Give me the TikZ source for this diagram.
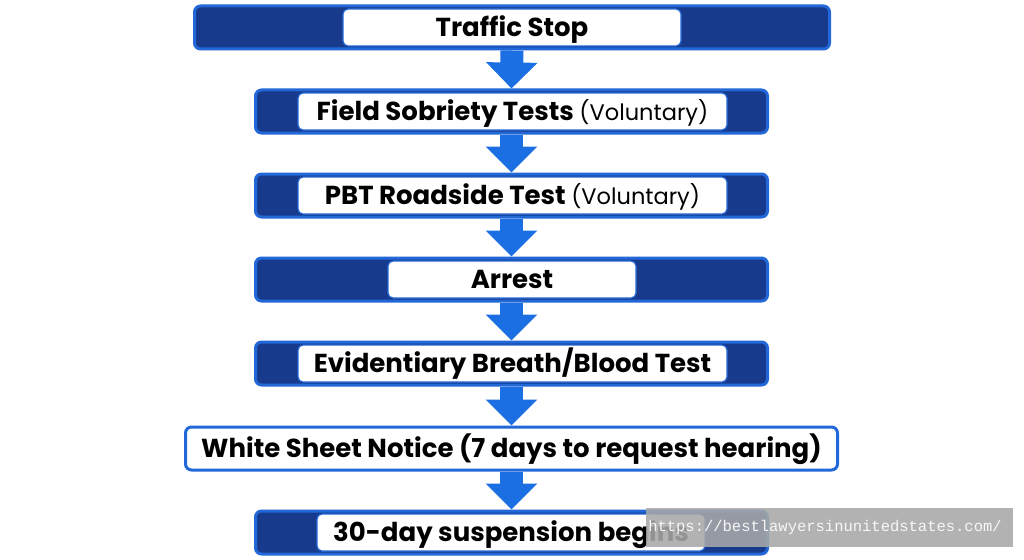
\documentclass[tikz,border=0pt]{standalone}
\usepackage{fontspec}
\setmainfont{Poppins}
\newfontfamily\wmfont{Liberation Mono}
\usetikzlibrary{arrows.meta}
\definecolor{bright}{HTML}{2268D8}
\definecolor{arrowblue}{HTML}{1C6FE2}
\definecolor{navy}{HTML}{173A8C}
\definecolor{wmgray}{HTML}{A8A8A8}
\newcommand{\paren}[1]{{\mdseries\fontsize{22.5}{24}\selectfont #1}}
\begin{document}
\begin{tikzpicture}[x=1pt,y=-1pt,
  labelfont/.style={font=\fontsize{26}{28}\selectfont\bfseries, text height=18.5pt, text depth=0pt},
  outerbox/.style={draw=bright, fill=navy, line width=3pt, rounded corners=6pt,
    minimum height=43pt, inner sep=0pt, anchor=center},
  innerbox/.style={draw=bright, fill=white, line width=1.2pt, rounded corners=5pt,
    minimum height=37pt, inner sep=0pt, anchor=center, labelfont},
  whitebox/.style={draw=bright, fill=white, line width=3pt, rounded corners=6pt,
    minimum height=43pt, inner sep=0pt, anchor=center, labelfont},
  flow/.style={arrowblue, line width=23pt, -{Triangle[width=50pt,length=26pt]}}
]
\useasboundingbox (0,0) rectangle (1024,559);
\fill[white] (0,0) rectangle (1024,559);

% outer boxes
\node[outerbox, minimum width=635pt] (b1) at (512,27.5) {};
\node[outerbox, minimum width=512pt] (b2) at (511.5,111.5) {};
\node[outerbox, minimum width=512pt] (b3) at (511.5,195.5) {};
\node[outerbox, minimum width=512pt] (b4) at (511.5,279.5) {};
\node[outerbox, minimum width=512pt] (b5) at (511.5,363.5) {};
\node[whitebox, minimum width=652pt] (b6) at (511.5,448.5) {White Sheet Notice (7 days to request hearing)};
\node[outerbox, minimum width=512pt] (b7) at (511.5,532.5) {};

% inner labels
\node[innerbox, minimum width=338pt] (t1) at (512,27.5) {Traffic Stop};
\node[innerbox, minimum width=429pt] (t2) at (512.5,111.5) {Field Sobriety Tests \paren{(Voluntary)}};
\node[innerbox, minimum width=429pt] (t3) at (512.5,195.5) {PBT Roadside Test \paren{(Voluntary)}};
\node[innerbox, minimum width=248pt] (t4) at (512,279.5) {Arrest};
\node[innerbox, minimum width=429pt] (t5) at (512.5,363.5) {Evidentiary Breath/Blood Test};
\node[innerbox, minimum width=388pt] (t7) at (511,532.5) {30-day suspension begins};

% connectors
\draw[flow] (b1.south) -- (b2.north);
\draw[flow] (b2.south) -- (b3.north);
\draw[flow] (b3.south) -- (b4.north);
\draw[flow] (b4.south) -- (b5.north);
\draw[flow] (b5.south) -- (b6.north);
\draw[flow] (b6.south) -- (b7.north);

% watermark
\fill[wmgray, opacity=0.88] (646,508) rectangle (1013,547);
\node[text=white!94!gray, font=\wmfont\fontsize{15.5}{17}\selectfont, anchor=center] (wm) at (825,527.5) {https://bestlawyersinunitedstates.com/};
\end{tikzpicture}
\end{document}
